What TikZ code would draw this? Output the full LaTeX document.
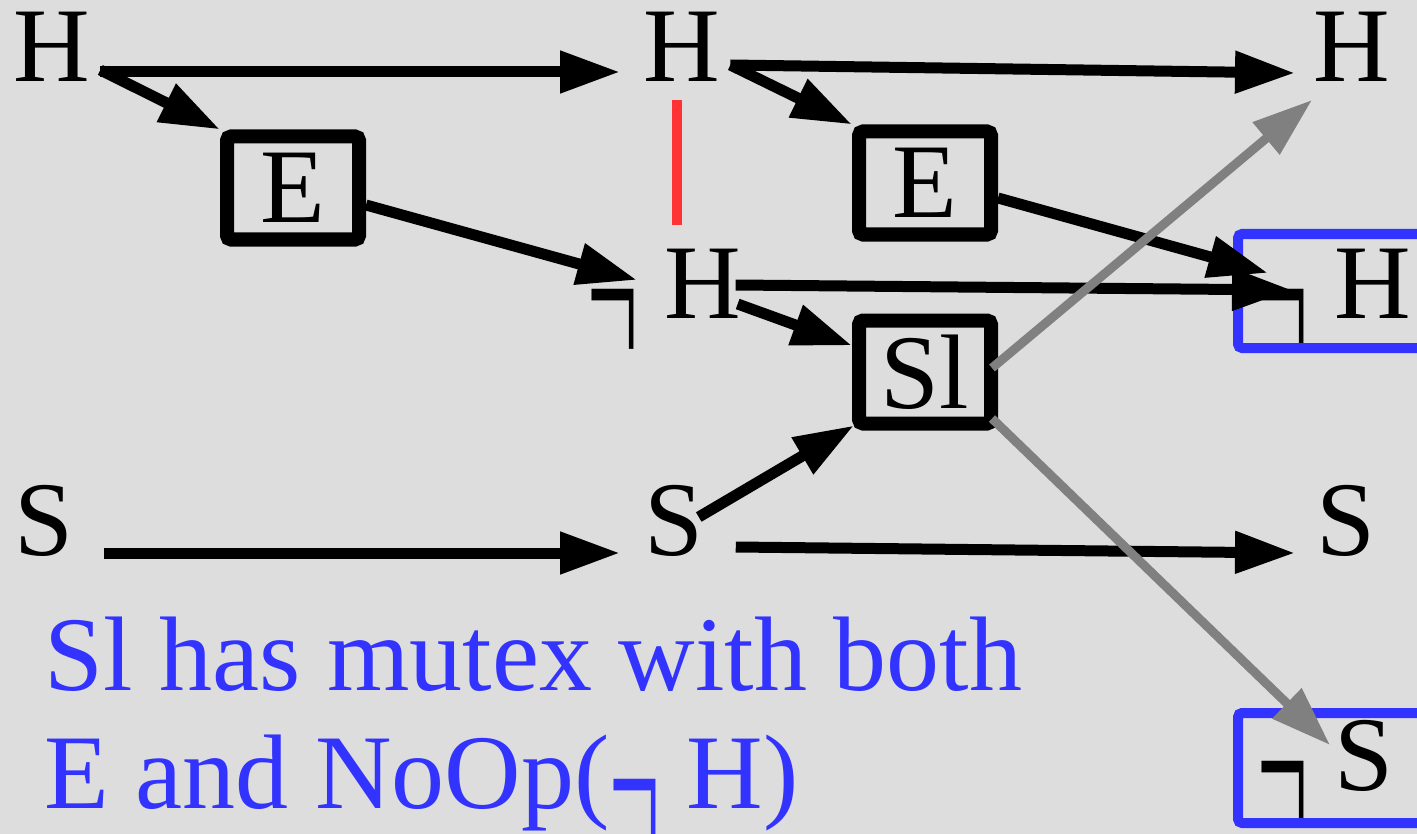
\documentclass[tikz,border=0pt]{standalone}
\usepackage{fontspec}
\setmainfont{Liberation Serif}
\usepackage{graphicx}
\usetikzlibrary{arrows.meta}
\definecolor{bgray}{HTML}{DDDDDD}
\definecolor{mblue}{HTML}{3333FF}
\definecolor{mred}{HTML}{FF3333}
\definecolor{lgray}{HTML}{808080}
\newcommand{\negmark}{\raisebox{-27pt}{\scalebox{0.85}[2.2]{¬}}}

\begin{document}
\begin{tikzpicture}[x=0.5pt,y=-0.5pt,
    >={Triangle[length=30pt,width=20pt]},
    lit/.style={anchor=base west,inner sep=0pt,font=\fontsize{53}{64}\selectfont},
    act/.style={draw,line width=7pt,rounded corners=2pt,inner sep=0pt,
      minimum width=66pt,minimum height=51.5pt,font=\fontsize{53}{64}\selectfont},
    link/.style={->,line width=5.5pt},
    mtx/.style={->,line width=4.5pt,lgray},
    goal/.style={mblue,line width=5pt,rounded corners=2pt}]
  \fill[bgray] (0,0) rectangle (1417,834);
  \useasboundingbox (0,0) rectangle (1417,834);

  \node[lit] (h0) at (13,82) {H};
  \node[lit] (s0) at (14,555) {S};
  \node[lit] (h1) at (643,82) {H};
  \node[lit] (nh1) at (587,318) {\negmark\ H};
  \node[lit] (s1) at (644,555) {S};
  \node[lit] (h2) at (1313,82) {H};
  \node[lit] (nh2) at (1257,318) {\negmark\ H};
  \node[lit] (s2) at (1316,555) {S};
  \node[lit] (ns2) at (1257,790) {\negmark\ S};
  \node[act] (e1) at (293,188) {E};
  \node[act] (e2) at (925,183) {E};
  \node[act] (sl) at (925,372) {Sl};

  \draw[goal] (1238,234) rectangle (1450,348);
  \draw[goal] (1238,713) rectangle (1450,823);

  \draw[link] ([shift={(10,-10)}]h0.base east) -- ([shift={(-23,-10)}]h1.base west);
  \draw[link] ([shift={(10,-12)}]h0.base east) -- (e1.north west);
  \draw[link] ([shift={(0,17)}]e1.east) -- ([shift={(50,-38)}]nh1.base west);
  \draw[mred,line width=5pt] ([shift={(34,18)}]h1.base west) -- ([shift={(90,-93)}]nh1.base west);
  \draw[link] ([shift={(30,-2)}]s0.base east) -- ([shift={(-24,-2)}]s1.base west);

  \draw[link] ([shift={(10,-17)}]h1.base east) -- ([shift={(-18,-9)}]h2.base west);
  \draw[link] ([shift={(10,-17)}]h1.base east) -- (e2.north west);
  \draw[link] ([shift={(0,15)}]e2.east) -- ([shift={(11,-45)}]nh2.base west);
  \draw[link] ([shift={(-6,-33)}]nh1.base east) -- ([shift={(35,-28)}]nh2.base west);
  \draw[link] ([shift={(-4,-14)}]nh1.base east) -- ([shift={(0,32)}]sl.north west);
  \draw[link] ([shift={(-5,-38)}]s1.base east) -- ([shift={(2,-5)}]sl.south west);
  \draw[link] ([shift={(32,-8)}]s1.base east) -- ([shift={(-21,-2)}]s2.base west);
  \draw[mtx] ([shift={(-6,-4)}]sl.east) -- ([shift={(-1,18)}]h2.base west);
  \draw[mtx] ([shift={(-6,-12)}]sl.south east) -- ([shift={(73,-45)}]ns2.base west);

  \node[lit,mblue] (note1) at (44,690) {Sl has mutex with both};
  \node[lit,mblue] (note2) at (44,808) {E and NoOp(\negmark\ H)};
\end{tikzpicture}
\end{document}
